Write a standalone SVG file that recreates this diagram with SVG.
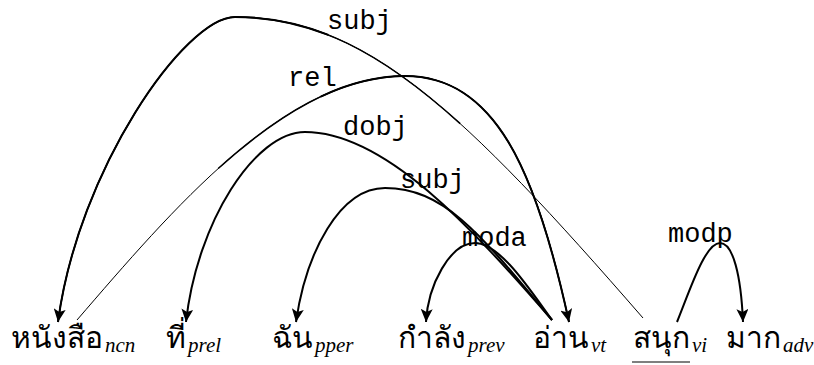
<svg xmlns="http://www.w3.org/2000/svg" width="814" height="365" viewBox="0 0 814 365">
<style>
.w{font-family:"Noto Sans",sans-serif;font-size:30px;fill:#000}
.s{font-family:"Liberation Serif",serif;font-style:italic;font-size:21px}
.l{font-family:"Liberation Mono",monospace;font-size:27px;fill:#000}
.e{fill:none;stroke:#000;stroke-width:2}
.t1{fill:none;stroke:#000;stroke-width:1}
.t2{fill:none;stroke:#000;stroke-width:1.5}
.a{marker-end:url(#ah)}
</style>
<defs>
<marker id="ah" markerUnits="userSpaceOnUse" markerWidth="14" markerHeight="12" refX="13" refY="6" orient="auto"><path d="M0,0 L13,6 L0,12 L3,6 z" fill="#000"/></marker>
</defs>
<rect width="814" height="365" fill="#fff"/>
<g id="edges">
<g id="e-subj-top">
<path class="t1" d="M643,318 C463,111 365,17 235,17 C185,17 78,170 58,322"/>
<path class="t2" pathLength="100" stroke-dasharray="0 30 70 0" d="M643,318 C463,111 365,17 235,17 C185,17 78,170 58,322"/>
<path class="e a" pathLength="100" stroke-dasharray="0 48 52 0" d="M643,318 C463,111 365,17 235,17 C185,17 78,170 58,322"/>
</g>
<g id="e-rel">
<path class="t1" d="M77,320 C172,210 285,76 405,76 C495,76 536,170 569,322"/>
<path class="t2" pathLength="100" stroke-dasharray="0 28 72 0" d="M77,320 C172,210 285,76 405,76 C495,76 536,170 569,322"/>
<path class="e a" pathLength="100" stroke-dasharray="0 45 55 0" d="M77,320 C172,210 285,76 405,76 C495,76 536,170 569,322"/>
</g>
<path id="e-dobj" class="e a" d="M552,320 C472,228 385,132 305,132 C255,132 197,222 186,322"/>
<path id="e-subj" class="e a" d="M552,320 C482,236 445,188 385,188 C340,188 306,252 296,322"/>
<path id="e-moda" class="e a" d="M552,320 C530,290 500,243 475,243 C450,243 428,285 426,322"/>
<path id="e-modp" class="e a" d="M677,322 C690,290 705,243 720,243 C733,243 741,275 743,322"/>
</g>
<g id="labels">
<text class="l" x="327" y="29">subj</text>
<text class="l" x="288" y="86">rel</text>
<text class="l" x="343" y="135">dobj</text>
<text class="l" x="400" y="188">subj</text>
<text class="l" x="462" y="246">moda</text>
<text class="l" x="668" y="242">modp</text>
</g>
<g id="n1"><text class="w" x="11" y="348">หนังสือ<tspan class="s" dx="2" dy="4">ncn</tspan></text></g>
<g id="n2"><text class="w" x="166" y="348">ที่<tspan class="s" dx="2" dy="4">prel</tspan></text></g>
<g id="n3"><text class="w" x="272" y="348">ฉัน<tspan class="s" dx="2" dy="4">pper</tspan></text></g>
<g id="n4"><text class="w" x="398" y="348">กำลัง<tspan class="s" dx="2" dy="4">prev</tspan></text></g>
<g id="n5"><text class="w" x="533" y="348">อ่าน<tspan class="s" dx="2" dy="4">vt</tspan></text></g>
<g id="n6"><text class="w" x="633" y="348">สนุก<tspan class="s" dx="2" dy="4">vi</tspan></text><line x1="632" y1="362" x2="690" y2="362" stroke="#000" stroke-width="1.2"/></g>
<g id="n7"><text class="w" x="726" y="348">มาก<tspan class="s" dx="2" dy="4">adv</tspan></text></g>
</svg>
